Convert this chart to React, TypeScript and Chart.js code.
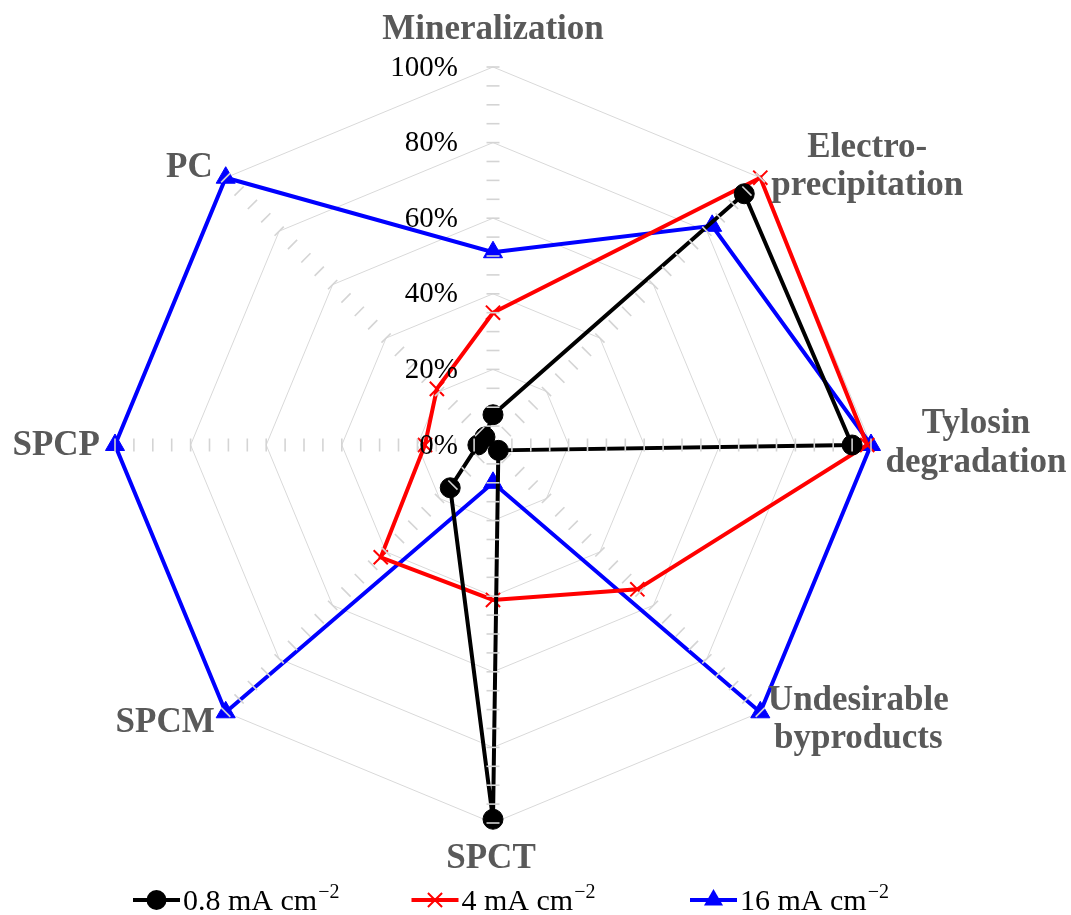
import React, { useEffect, useRef } from "react";
import { Chart, registerables } from "chart.js";

Chart.register(...registerables);

// ---- data ----
const categories: string[][] = [
  ["Mineralization"],
  ["Electro-", "precipitation"],
  ["Tylosin", "degradation"],
  ["Undesirable", "byproducts"],
  ["SPCT"],
  ["SPCM"],
  ["SPCP"],
  ["PC"],
];
const seriesNames = ["0.8 mA cm", "4 mA cm", "16 mA cm"];
const seriesSuperscript = "\u22122";
const series08 = [8, 94, 95, 2, 99, 16, 4, 3];
const series4 = [35, 100, 99, 54, 41, 42, 18, 21];
const series16 = [51, 82, 100, 100, 10, 100, 100, 100];
const tickValues = [0, 20, 40, 60, 80, 100];
const tickLabels = ["0%", "20%", "40%", "60%", "80%", "100%"];
const minorStep = 5;

const colors = ["#000000", "#ff0000", "#0000ff"];
const pointStyles = ["circle", "crossRot", "triangle"];
const FONT = '"Liberation Serif", "Times New Roman", serif';
const LABEL_GRAY = "#595959";

// label placement relative to the axis end (code-side layout, not data)
const labelLayout = [
  { dx: 0, dys: [-28], align: "center" },
  { dx: 107, dys: [-21, 17], align: "center" },
  { dx: 105, dys: [-12, 27], align: "center" },
  { dx: 98, dys: [-2, 36], align: "center" },
  { dx: -2, dys: [45], align: "center" },
  { dx: -11, dys: [20], align: "right" },
  { dx: -15, dys: [10], align: "right" },
  { dx: -13, dys: [-1], align: "right" },
];

function drawMarker(ctx: CanvasRenderingContext2D, style: string, x: number, y: number, color: string) {
  ctx.save();
  ctx.fillStyle = color;
  ctx.strokeStyle = color;
  if (style === "circle") {
    ctx.beginPath();
    ctx.arc(x, y, 10, 0, Math.PI * 2);
    ctx.fill();
  } else if (style === "crossRot") {
    ctx.lineWidth = 2;
    const r = 10 * Math.SQRT1_2;
    ctx.beginPath();
    ctx.moveTo(x - r, y - r);
    ctx.lineTo(x + r, y + r);
    ctx.moveTo(x - r, y + r);
    ctx.lineTo(x + r, y - r);
    ctx.stroke();
  } else {
    const r = 11;
    ctx.beginPath();
    ctx.moveTo(x, y - r);
    ctx.lineTo(x + r * Math.cos(Math.PI / 6), y + r / 2);
    ctx.lineTo(x - r * Math.cos(Math.PI / 6), y + r / 2);
    ctx.closePath();
    ctx.fill();
  }
  ctx.restore();
}

const overlayPlugin = {
  id: "overlay",
  afterDatasetsDraw(chart: any) {
    const s = chart.scales.r;
    const ctx: CanvasRenderingContext2D = chart.ctx;
    ctx.save();
    ctx.strokeStyle = "#d4d4d4";
    ctx.lineWidth = 1.6;
    const n = chart.data.labels.length;
    for (let i = 0; i < n; i++) {
      const a = s.getIndexAngle(i) - Math.PI / 2;
      const px = -Math.sin(a);
      const py = Math.cos(a);
      for (let v = minorStep; v <= 100; v += minorStep) {
        const p = s.getPointPositionForValue(i, v);
        ctx.beginPath();
        ctx.moveTo(p.x - px * 6.5, p.y - py * 6.5);
        ctx.lineTo(p.x + px * 6.5, p.y + py * 6.5);
        ctx.stroke();
      }
    }
    ctx.restore();
  },
  afterDraw(chart: any) {
    const s = chart.scales.r;
    const ctx: CanvasRenderingContext2D = chart.ctx;
    ctx.save();
    // tick labels
    ctx.fillStyle = "#000000";
    ctx.font = `29px ${FONT}`;
    ctx.textAlign = "right";
    ctx.textBaseline = "middle";
    tickValues.forEach((v, k) => {
      const d = s.getDistanceFromCenterForValue(v);
      ctx.fillText(tickLabels[k], s.xCenter - 35, s.yCenter - d + 1);
    });
    // point labels
    ctx.fillStyle = LABEL_GRAY;
    ctx.font = `bold 35px ${FONT}`;
    ctx.textBaseline = "alphabetic";
    categories.forEach((lines, i) => {
      const p = s.getPointPositionForValue(i, 100);
      const L = labelLayout[i];
      ctx.textAlign = L.align as CanvasTextAlign;
      lines.forEach((t, j) => ctx.fillText(t, p.x + L.dx, p.y + L.dys[j]));
    });
    // legend
    const y = 900;
    const slot = 278.5;
    const x0 = 133;
    ctx.textAlign = "left";
    ctx.textBaseline = "middle";
    seriesNames.forEach((name, k) => {
      const x = x0 + k * slot;
      ctx.strokeStyle = colors[k];
      ctx.lineWidth = 4;
      ctx.beginPath();
      ctx.moveTo(x, y);
      ctx.lineTo(x + 47, y);
      ctx.stroke();
      drawMarker(ctx, pointStyles[k], x + 23.5, y, colors[k]);
      ctx.fillStyle = "#000000";
      ctx.font = `30px ${FONT}`;
      const tx = x + 50;
      ctx.fillText(name, tx, y + 2);
      const w = ctx.measureText(name).width;
      ctx.font = `20px ${FONT}`;
      ctx.fillText(seriesSuperscript, tx + w + 1, y - 7);
    });
    ctx.restore();
  },
};

export default function App() {
  const ref = useRef<HTMLCanvasElement | null>(null);
  useEffect(() => {
    if (!ref.current) return;
    const datasets = [series08, series4, series16].map((d, k) => ({
      label: seriesNames[k] + seriesSuperscript,
      data: d,
      borderColor: colors[k],
      backgroundColor: colors[k],
      borderWidth: 4,
      fill: false,
      tension: 0,
      pointStyle: pointStyles[k],
      pointRadius: k === 2 ? 11 : 10,
      pointHoverRadius: k === 2 ? 11 : 10,
      pointBorderWidth: k === 1 ? 2 : 1,
      pointBackgroundColor: colors[k],
      pointBorderColor: colors[k],
      clip: false,
    }));
    const chart = new Chart(ref.current, {
      type: "radar",
      data: { labels: categories as any, datasets: datasets as any },
      options: {
        responsive: false,
        animation: false,
        layout: { padding: { left: 115, right: 200, top: 67, bottom: 92 } },
        plugins: { legend: { display: false }, tooltip: { enabled: false } },
        scales: {
          r: {
            min: 0,
            max: 100,
            ticks: { display: false, stepSize: 20 },
            grid: { color: "#d9d9d9", lineWidth: 1 },
            angleLines: { display: false },
            pointLabels: { display: false },
          },
        },
      },
      plugins: [overlayPlugin],
    });
    return () => chart.destroy();
  }, []);
  return (
    <div style={{ position: "absolute", left: 0, top: 0, width: 1071, height: 915, background: "#fff" }}>
      <canvas ref={ref} width={1071} height={915} style={{ width: 1071, height: 915 }} />
    </div>
  );
}
